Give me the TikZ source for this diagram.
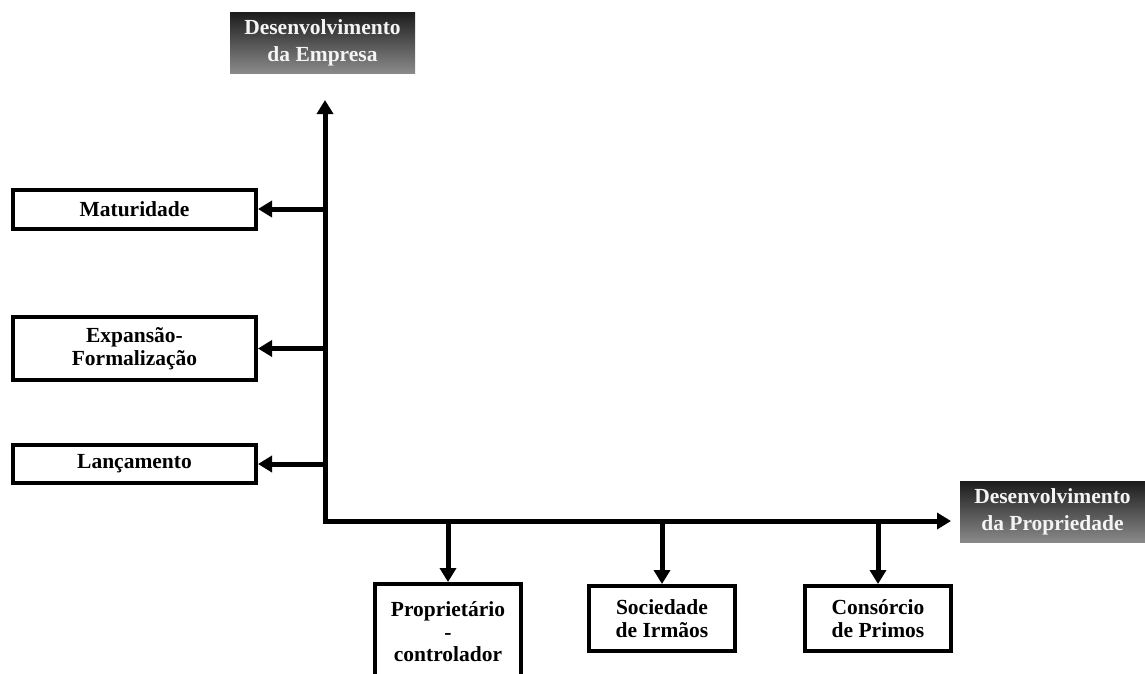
\documentclass[tikz,border=0pt]{standalone}
\usepackage{fontspec}
\setmainfont{Liberation Serif}
\usetikzlibrary{arrows.meta}
\definecolor{shadetop}{HTML}{1C1C1C}
\definecolor{shadebot}{HTML}{8A8A8A}
\definecolor{labellight}{HTML}{F4F4F4}
\tikzset{
  stagebox/.style={draw=black, line width=4pt, fill=white, inner sep=0pt,
    align=center, font=\fontsize{21.5}{22.5}\selectfont\bfseries},
  axislabel/.style={inner sep=0pt, align=center, top color=shadetop,
    bottom color=shadebot, text=labellight,
    font=\fontsize{21.5}{27}\selectfont\bfseries},
  axisline/.style={line width=5pt, -{Triangle[length=14pt,width=16pt]}},
  branch/.style={line width=5pt, -{Triangle[length=14pt,width=16pt]}},
}
\begin{document}
\begin{tikzpicture}[x=1pt,y=-1pt]
\useasboundingbox (0,0) rectangle (1145,673);
\clip (0,0) rectangle (1145,673);

% axis titles
\node[axislabel, minimum width=185pt, minimum height=61pt] (empresa) at (322.5,42.5)
  {Desenvolvimento\\da Empresa};
\node[axislabel, minimum width=185pt, minimum height=61pt] (propriedade) at (1052.5,512)
  {Desenvolvimento\\da Propriedade};

% stages of the business
\node[stagebox, minimum width=243pt, minimum height=39pt] (mat) at (134.5,209) {Maturidade};
\node[stagebox, minimum width=243pt, minimum height=63pt] (exp) at (134.5,348.5) {Expansão-\\Formalização};
\node[stagebox, minimum width=243pt, minimum height=38pt] (lan) at (134.5,464) {Lançamento};

% stages of ownership
\node[stagebox, minimum width=146pt, minimum height=96pt] (prop) at (448,632) {Proprietário\\-\\controlador};
\node[stagebox, minimum width=146pt, minimum height=65pt] (soc) at (662,618.5) {Sociedade\\de Irmãos};
\node[stagebox, minimum width=146pt, minimum height=65pt] (cons) at (878,618.5) {Consórcio\\de Primos};

% axes
\coordinate (origin) at (325,521);
\coordinate (ytip) at (325,100);
\coordinate (xtip) at (951,521);
\draw[axisline] ([xshift=-2.5pt]origin) -- (xtip);
\draw[axisline] ([yshift=2.5pt]origin) -- (ytip);

% branches to the stage boxes
\draw[branch] (mat.east -| origin) -- (mat.east);
\draw[branch] (exp.east -| origin) -- (exp.east);
\draw[branch] (lan.east -| origin) -- (lan.east);
\draw[branch] (prop.north |- origin) -- (prop.north);
\draw[branch] (soc.north |- origin) -- (soc.north);
\draw[branch] (cons.north |- origin) -- (cons.north);
\end{tikzpicture}
\end{document}
